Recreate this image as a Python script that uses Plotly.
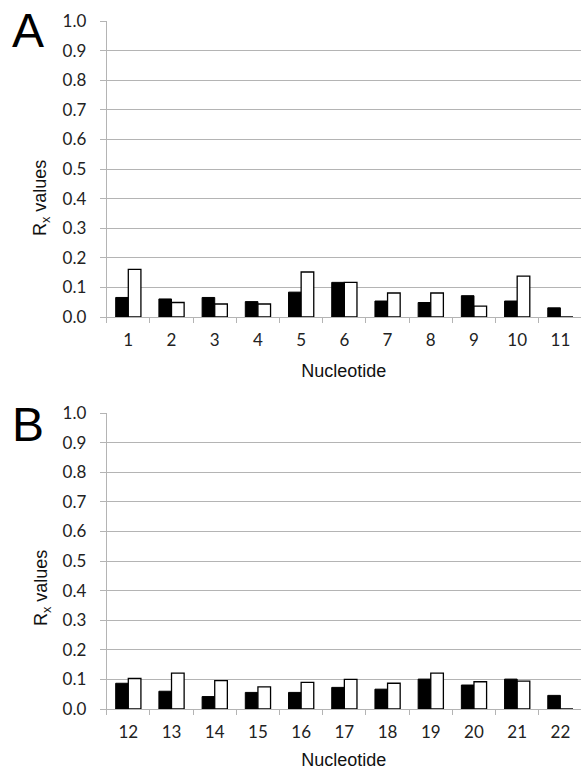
import plotly.graph_objects as go

nuc_a = ["1", "2", "3", "4", "5", "6", "7", "8", "9", "10", "11"]
black_a = [0.066, 0.061, 0.066, 0.052, 0.084, 0.117, 0.054, 0.049, 0.072, 0.054, 0.031]
white_a = [0.161, 0.049, 0.044, 0.044, 0.152, 0.117, 0.081, 0.081, 0.037, 0.138, 0]

nuc_b = ["12", "13", "14", "15", "16", "17", "18", "19", "20", "21", "22"]
black_b = [0.087, 0.060, 0.042, 0.056, 0.056, 0.073, 0.067, 0.101, 0.081, 0.101, 0.046]
white_b = [0.103, 0.121, 0.096, 0.075, 0.090, 0.100, 0.087, 0.121, 0.092, 0.094, 0]

y_ticks = [0.0, 0.1, 0.2, 0.3, 0.4, 0.5, 0.6, 0.7, 0.8, 0.9, 1.0]
y_ticktext = ["%.1f" % v for v in y_ticks]

W, H = 581, 770
GRID = "#b4b4b4"
TICKFONT = dict(family="Lato, Carlito, sans-serif", size=17, color="#222222")

fig = go.Figure()
for cats, blk, wht, xa, ya in [(nuc_a, black_a, white_a, "x", "y"),
                               (nuc_b, black_b, white_b, "x2", "y2")]:
    fig.add_trace(go.Bar(x=cats, y=blk, xaxis=xa, yaxis=ya,
                         marker=dict(color="black", line=dict(color="black", width=1)),
                         showlegend=False))
    fig.add_trace(go.Bar(x=cats, y=wht, xaxis=xa, yaxis=ya,
                         marker=dict(color="white", line=dict(color="black", width=1.3)),
                         showlegend=False))

x0 = 106.7 / W
step = 43.3
xr = [-0.5, 10.5 - (582 - 581) / step]

def xaxis_cfg(anchor):
    return dict(domain=[x0, 1], anchor=anchor, range=xr, type="category", automargin=False,
                showgrid=False, showline=True, linecolor=GRID, linewidth=1,
                ticks="outside", tickson="boundaries", ticklen=5, tickcolor=GRID,
                tickfont=TICKFONT, ticklabelstandoff=8,
                title=dict(text="Nucleotide", font=dict(family="Liberation Sans, Arial", size=18, color="#111111"), standoff=14))

def yaxis_cfg(anchor, dom):
    return dict(domain=dom, anchor=anchor, range=[0, 1.0], tickvals=y_ticks, ticktext=y_ticktext,
                automargin=False,
                showgrid=True, gridcolor=GRID, gridwidth=1, zeroline=False,
                showline=True, linecolor=GRID, linewidth=1,
                ticks="outside", ticklen=6, tickcolor=GRID,
                tickfont=TICKFONT, ticklabelstandoff=10)

fig.update_layout(
    width=W, height=H, margin=dict(l=0, r=0, t=0, b=0, autoexpand=False),
    paper_bgcolor="white", plot_bgcolor="white",
    barmode="group", bargap=0.416, bargroupgap=0,
    xaxis=xaxis_cfg("y"), yaxis=yaxis_cfg("x", [1 - 317 / H, 1 - 21 / H]),
    xaxis2=xaxis_cfg("y2"), yaxis2=yaxis_cfg("x2", [1 - 709 / H, 1 - 413 / H]),
    annotations=[
        dict(text="R<sub>x</sub> values", textangle=-90, xref="paper", yref="paper",
             x=42 / W, y=1 - 198 / H, xanchor="center", yanchor="middle", showarrow=False,
             font=dict(family="Liberation Sans, Arial", size=18, color="#111111")),
        dict(text="R<sub>x</sub> values", textangle=-90, xref="paper", yref="paper",
             x=42 / W, y=1 - 588 / H, xanchor="center", yanchor="middle", showarrow=False,
             font=dict(family="Liberation Sans, Arial", size=18, color="#111111")),
        dict(text="A", xref="paper", yref="paper", x=10 / W, y=1 - 2 / H,
             xanchor="left", yanchor="top", showarrow=False,
             font=dict(family="Liberation Sans, Arial", size=48, color="black")),
        dict(text="B", xref="paper", yref="paper", x=10 / W, y=1 - 396 / H,
             xanchor="left", yanchor="top", showarrow=False,
             font=dict(family="Liberation Sans, Arial", size=48, color="black")),
    ],
)

fig.write_html("out.html", config={"displayModeBar": False},
               post_script="document.body.style.margin='0';document.body.style.overflow='hidden';")
